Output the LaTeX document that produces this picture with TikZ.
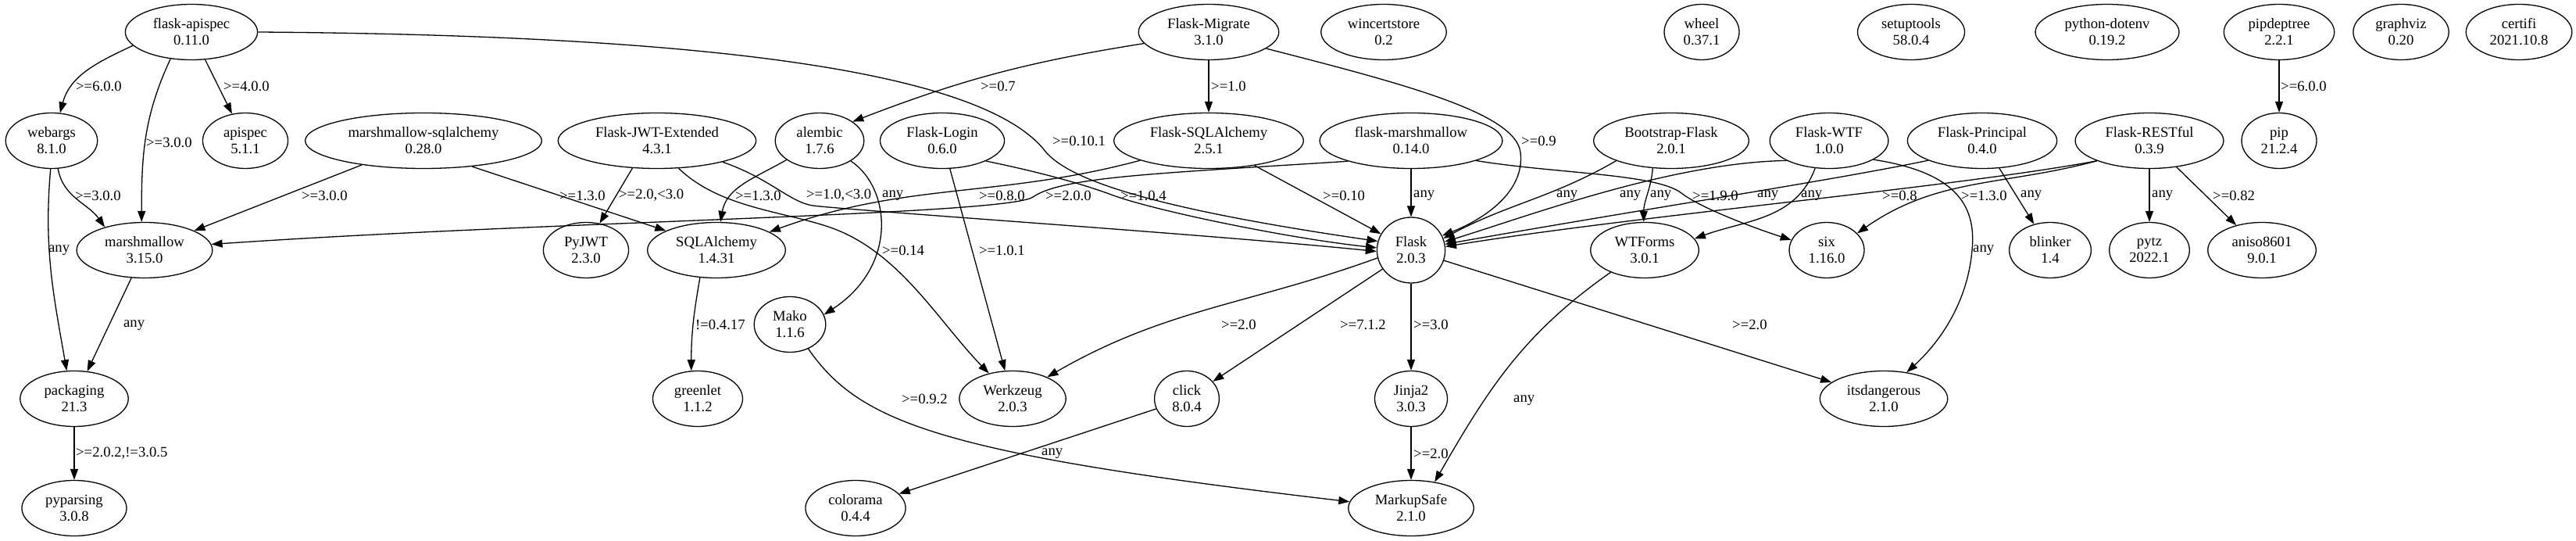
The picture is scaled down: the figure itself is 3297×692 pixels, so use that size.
\documentclass[tikz,border=0pt]{standalone}
\usepackage{fontspec}
\setmainfont{Liberation Serif}
\usetikzlibrary{arrows.meta,shapes.geometric}

\begin{document}
\begin{tikzpicture}[
    x=1pt, y=1pt,
    font=\fontsize{18.67}{21}\selectfont,
    pkg/.style={ellipse, draw=black, line width=1.3pt, align=center,
                inner xsep=10.6pt, inner ysep=2pt,
                minimum width=72pt, minimum height=71pt},
    dep/.style={-{Triangle[length=14pt,width=10pt]}, line width=1.3pt, draw=black},
    lbl/.style={anchor=west, inner sep=0pt},
  ]
  \useasboundingbox (0,0) rectangle (3297,-692);
  % top rank
  \node[pkg] (fapi)    at (245,-41)  {flask-apispec\\0.11.0};
  \node[pkg] (migrate) at (1547,-41) {Flask-Migrate\\3.1.0};
  \node[pkg] (wincert) at (1771,-41) {wincertstore\\0.2};
  \node[pkg] (wheel)   at (2178,-41) {wheel\\0.37.1};
  \node[pkg] (setup)   at (2446,-41) {setuptools\\58.0.4};
  \node[pkg] (dotenv)  at (2697,-41) {python-dotenv\\0.19.2};
  \node[pkg] (pipdt)   at (2917,-41) {pipdeptree\\2.2.1};
  \node[pkg] (gviz)    at (3073,-41) {graphviz\\0.20};
  \node[pkg] (certifi) at (3224,-41) {certifi\\2021.10.8};
  % second rank
  \node[pkg] (webargs) at (66,-180)   {webargs\\8.1.0};
  \node[pkg] (apispec) at (314,-180)  {apispec\\5.1.1};
  \node[pkg] (mmsqla)  at (542,-180)  {marshmallow-sqlalchemy\\0.28.0};
  \node[pkg] (jwt)     at (841,-180)  {Flask-JWT-Extended\\4.3.1};
  \node[pkg] (alembic) at (1049,-180) {alembic\\1.7.6};
  \node[pkg] (flogin)  at (1206,-180) {Flask-Login\\0.6.0};
  \node[pkg] (fsqla)   at (1547,-180) {Flask-SQLAlchemy\\2.5.1};
  \node[pkg] (fmm)     at (1806,-180) {flask-marshmallow\\0.14.0};
  \node[pkg] (bsflask) at (2139,-180) {Bootstrap-Flask\\2.0.1};
  \node[pkg] (fwtf)    at (2341,-180) {Flask-WTF\\1.0.0};
  \node[pkg] (fprinc)  at (2537,-180) {Flask-Principal\\0.4.0};
  \node[pkg] (frest)   at (2751,-180) {Flask-RESTful\\0.3.9};
  \node[pkg] (pip)     at (2917,-180) {pip\\21.2.4};
  % third rank
  \node[pkg] (mm)      at (185,-320)  {marshmallow\\3.15.0};
  \node[pkg] (pyjwt)   at (750,-320)  {PyJWT\\2.3.0};
  \node[pkg] (sqla)    at (917,-320)  {SQLAlchemy\\1.4.31};
  \node[pkg, minimum height=84pt] (flask) at (1806,-320) {Flask\\2.0.3};
  \node[pkg] (wtforms) at (2105,-320) {WTForms\\3.0.1};
  \node[pkg] (six)     at (2338,-320) {six\\1.16.0};
  \node[pkg] (blinker) at (2624,-320) {blinker\\1.4};
  \node[pkg] (pytz)    at (2751,-320) {pytz\\2022.1};
  \node[pkg] (aniso)   at (2895,-320) {aniso8601\\9.0.1};
  \node[pkg] (mako)    at (1011,-415) {Mako\\1.1.6};
  % lower ranks
  \node[pkg] (pack)     at (95,-510)   {packaging\\21.3};
  \node[pkg] (greenlet) at (893,-510)  {greenlet\\1.1.2};
  \node[pkg] (werkzeug) at (1296,-510) {Werkzeug\\2.0.3};
  \node[pkg] (click)    at (1519,-510) {click\\8.0.4};
  \node[pkg] (jinja)    at (1806,-510) {Jinja2\\3.0.3};
  \node[pkg] (itsd)     at (2411,-510) {itsdangerous\\2.1.0};
  \node[pkg] (pypars)   at (95,-650)   {pyparsing\\3.0.8};
  \node[pkg] (colorama) at (1095,-650) {colorama\\0.4.4};
  \node[pkg] (msafe)    at (1806,-650) {MarkupSafe\\2.1.0};

  % dependencies of the top rank
  \draw[dep] (fapi.193) to[out=205,in=75] (webargs.73);
  \draw[dep] (fapi.232) to[out=245,in=90] (mm.96);
  \draw[dep] (fapi) -- (apispec);
  \draw[dep] (fapi.east) .. controls (900,-45) and (1250,-90) .. (1335,-190)
             .. controls (1360,-225) and (1450,-263) .. (flask.165);
  \draw[dep] (migrate.190) to[bend right=6] (alembic.30);
  \draw[dep] (migrate) -- (fsqla);
  \draw[dep] (migrate.-16) .. controls (1800,-108) and (1940,-145) .. (1946,-195)
             .. controls (1952,-245) and (1900,-280) .. (flask.25);
  \draw[dep] (pipdt) -- (pip);
  % dependencies of the second rank
  \draw[dep] (webargs.-77) to[out=-80,in=125] (mm.150);
  \draw[dep] (webargs.-92) to[out=-95,in=100] (pack.105);
  \draw[dep] (mmsqla) -- (mm);
  \draw[dep] (mmsqla.-28) -- (sqla.159);
  \draw[dep] (jwt.228) -- (pyjwt.63);
  \draw[dep] (jwt.-52) .. controls (920,-265) and (1000,-270) .. (1060,-290)
             .. controls (1150,-320) and (1200,-410) .. (werkzeug.133);
  \draw[dep] (jwt.-18) .. controls (985,-228) and (1010,-258) .. (1040,-263)
             .. controls (1100,-270) and (1550,-300) .. (flask.182);
  \draw[dep] (alembic.210) to[out=210,in=80] (sqla.82);
  \draw[dep] (alembic.-33) .. controls (1140,-240) and (1150,-340) .. (mako.16);
  \draw[dep] (flogin) -- (werkzeug);
  \draw[dep] (flogin.-25) .. controls (1330,-220) and (1385,-235) .. (1425,-250)
             .. controls (1480,-270) and (1650,-305) .. (flask.176);
  \draw[dep] (fsqla.196) to[out=195,in=20] (sqla.19);
  \draw[dep] (fsqla) -- (flask);
  \draw[dep] (fmm.198) .. controls (1480,-222) and (1360,-226) .. (1322,-252)
             .. controls (1290,-275) and (700,-283) .. (mm.5);
  \draw[dep] (fmm) -- (flask);
  \draw[dep] (fmm.-17) .. controls (1990,-222) and (2120,-222) .. (2152,-247)
             .. controls (2175,-265) and (2240,-290) .. (six.164);
  \draw[dep] (bsflask.200) to[out=210,in=28] (flask.20);
  \draw[dep] (bsflask.236) to[out=-95,in=90] (wtforms.92);
  \draw[dep] (fwtf.205) .. controls (2140,-208) and (1960,-275) .. (flask.14);
  \draw[dep] (fwtf.243) to[out=-110,in=20] (wtforms.13);
  \draw[dep] (fwtf.-23) .. controls (2500,-220) and (2530,-260) .. (2524,-320)
             .. controls (2518,-390) and (2480,-440) .. (itsd.49);
  \draw[dep] (fprinc.200) .. controls (2350,-230) and (2100,-268) .. (flask.10);
  \draw[dep] (fprinc) -- (blinker);
  \draw[dep] (frest.201) .. controls (2500,-240) and (2100,-275) .. (flask.6);
  \draw[dep] (frest.201) to[out=195,in=35] (six.29);
  \draw[dep] (frest) -- (pytz);
  \draw[dep] (frest) -- (aniso);
  % dependencies of the lower ranks
  \draw[dep] (mm) -- (pack);
  \draw[dep] (pack) -- (pypars);
  \draw[dep] (sqla.239) to[out=-100,in=90] (greenlet.103);
  \draw[dep] (mako.-53) .. controls (1100,-540) and (1200,-580) .. (msafe.174);
  \draw[dep] (flask.193) to[out=200,in=30] (werkzeug.32);
  \draw[dep] (flask) -- (click);
  \draw[dep] (flask) -- (jinja);
  \draw[dep] (flask) -- (itsd);
  \draw[dep] (wtforms.213) to[out=215,in=60] (msafe.48);
  \draw[dep] (jinja) -- (msafe);
  \draw[dep] (click) -- (colorama);

  % version constraints
  \node[lbl] (v-fapi-webargs)   at (97,-110)   {>=6.0.0};
  \node[lbl] (v-fapi-apispec)   at (286,-110)  {>=4.0.0};
  \node[lbl] (v-fapi-mm)        at (187,-182)  {>=3.0.0};
  \node[lbl] (v-fapi-flask)     at (1347,-180) {>=0.10.1};
  \node[lbl] (v-migr-alembic)   at (1255,-110) {>=0.7};
  \node[lbl] (v-migr-fsqla)     at (1550,-110) {>=1.0};
  \node[lbl] (v-migr-flask)     at (1947,-180) {>=0.9};
  \node[lbl] (v-pipdt-pip)      at (2919,-110) {>=6.0.0};
  \node[lbl] (v-webargs-mm)     at (96,-250)   {>=3.0.0};
  \node[lbl] (v-mmsqla-mm)      at (386,-250)  {>=3.0.0};
  \node[lbl] (v-mmsqla-sqla)    at (716,-250)  {>=1.3.0};
  \node[lbl] (v-jwt-pyjwt)      at (792,-250)  {>=2.0,<3.0};
  \node[lbl] (v-alembic-sqla)   at (941,-250)  {>=1.3.0};
  \node[lbl] (v-jwt-flask)      at (1032,-250) {>=1.0,<3.0};
  \node[lbl] (v-alembic-mako)   at (1129,-250) {any};
  \node[lbl] (v-fsqla-sqla)     at (1253,-250) {>=0.8.0};
  \node[lbl] (v-fmm-mm)         at (1338,-250) {>=2.0.0};
  \node[lbl] (v-flogin-flask)   at (1434,-250) {>=1.0.4};
  \node[lbl] (v-fsqla-flask)    at (1693,-250) {>=0.10};
  \node[lbl] (v-fmm-flask)      at (1809,-250) {any};
  \node[lbl] (v-bsflask-flask)  at (1992,-250) {any};
  \node[lbl] (v-fwtf-flask)     at (2073,-250) {any};
  \node[lbl] (v-bsflask-wtf)    at (2112,-250) {any};
  \node[lbl] (v-fmm-six)        at (2166,-250) {>=1.9.0};
  \node[lbl] (v-fprinc-flask)   at (2249,-250) {any};
  \node[lbl] (v-fwtf-wtforms)   at (2305,-250) {any};
  \node[lbl] (v-frest-flask)    at (2409,-250) {>=0.8};
  \node[lbl] (v-frest-six)      at (2510,-250) {>=1.3.0};
  \node[lbl] (v-fprinc-blinker) at (2586,-250) {any};
  \node[lbl] (v-frest-pytz)     at (2754,-250) {any};
  \node[lbl] (v-frest-aniso)    at (2832,-250) {>=0.82};
  \node[lbl] (v-webargs-pack)   at (62,-320)   {any};
  \node[lbl] (v-jwt-werkzeug)   at (1129,-320) {>=0.14};
  \node[lbl] (v-flogin-werkz)   at (1253,-320) {>=1.0.1};
  \node[lbl] (v-fwtf-itsd)      at (2525,-320) {any};
  \node[lbl] (v-mm-pack)        at (158,-416)  {any};
  \node[lbl] (v-sqla-greenlet)  at (890,-415)  {!=0.4.17};
  \node[lbl] (v-flask-werkzeug) at (1563,-415) {>=2.0};
  \node[lbl] (v-flask-click)    at (1715,-415) {>=7.1.2};
  \node[lbl] (v-flask-jinja)    at (1809,-415) {>=3.0};
  \node[lbl] (v-flask-itsd)     at (2217,-415) {>=2.0};
  \node[lbl] (v-mako-msafe)     at (1154,-510) {>=0.9.2};
  \node[lbl] (v-wtforms-msafe)  at (1937,-512) {any};
  \node[lbl] (v-click-colorama) at (1333,-580) {any};
  \node[lbl] (v-jinja-msafe)    at (1809,-580) {>=2.0};
  \node[lbl] (v-pack-pypars)    at (97,-580)   {>=2.0.2,!=3.0.5};
\end{tikzpicture}
\end{document}
